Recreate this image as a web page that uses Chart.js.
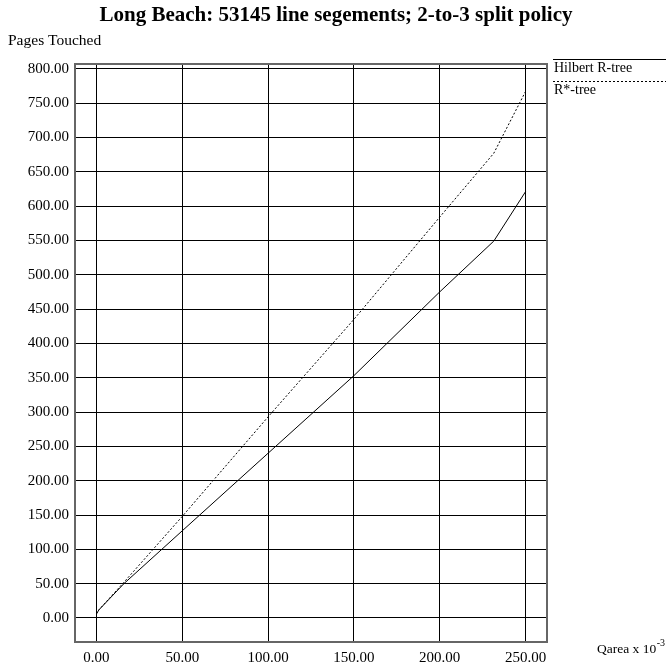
<!DOCTYPE html>
<html><head><meta charset="utf-8">
<script src="https://cdn.jsdelivr.net/npm/chart.js@4/dist/chart.umd.min.js"></script>
<style>html,body{margin:0;padding:0;background:#fff}#wrap{width:666px;height:671px;position:relative}canvas{display:block}</style>
</head><body><div id="wrap"><canvas id="c" width="666" height="671"></canvas></div>
<script>
const qarea   = [0, 1.5, 16, 50, 100, 150, 200, 231.5, 250];
const hilbert = [6, 12, 50, 127, 240, 353, 475, 549, 621];
const rstar   = [6, 12, 52, 148, 293, 435, 584, 677, 767];
const xTicks = [0, 50, 100, 150, 200, 250];
const yTicks = [0, 50, 100, 150, 200, 250, 300, 350, 400, 450, 500, 550, 600, 650, 700, 750, 800];
const seriesNames = ['Hilbert R-tree', 'R*-tree'];
const titleText = 'Long Beach: 53145 line segements; 2-to-3 split policy';
const yTitle = 'Pages Touched';

const SERIF = '"Liberation Serif", "Times New Roman", serif';

const decor = {
  id: 'decor',
  afterDraw(chart) {
    const ctx = chart.ctx, a = chart.chartArea;
    ctx.save();
    // frame
    ctx.strokeStyle = '#666';
    ctx.lineWidth = 2;
    ctx.strokeRect(a.left, a.top, a.right - a.left, a.bottom - a.top);
    // title
    ctx.fillStyle = '#000';
    ctx.textAlign = 'center';
    ctx.textBaseline = 'middle';
    ctx.font = 'bold 21px ' + SERIF;
    ctx.fillText(titleText, 336, 16);
    // y axis title
    ctx.textAlign = 'left';
    ctx.font = '15.5px ' + SERIF;
    ctx.fillText(yTitle, 8, 41);
    // x axis title
    ctx.font = '13.5px ' + SERIF;
    const base = 'Qarea x 10';
    ctx.fillText(base, 597, 649);
    const w = ctx.measureText(base).width;
    ctx.font = '10px ' + SERIF;
    ctx.fillText('-3', 597 + w + 0.5, 643);
    // legend
    const lx0 = a.right + 6, lx1 = 666;
    ctx.lineWidth = 1;
    ctx.strokeStyle = '#000';
    ctx.beginPath(); ctx.moveTo(lx0, 59.5); ctx.lineTo(lx1, 59.5); ctx.stroke();
    ctx.setLineDash([2, 2]);
    ctx.beginPath(); ctx.moveTo(lx0, 81.5); ctx.lineTo(lx1, 81.5); ctx.stroke();
    ctx.setLineDash([]);
    ctx.font = '14px ' + SERIF;
    ctx.fillText(seriesNames[0], lx0 + 1, 68);
    ctx.fillText(seriesNames[1], lx0 + 1, 90);
    ctx.restore();
  }
};

const tickFont = { family: SERIF, size: 15 };

new Chart(document.getElementById('c'), {
  type: 'line',
  data: {
    datasets: [
      { label: seriesNames[0], data: qarea.map((x, i) => ({ x, y: hilbert[i] })),
        borderColor: '#000', borderWidth: 1, pointRadius: 0, tension: 0, fill: false },
      { label: seriesNames[1], data: qarea.map((x, i) => ({ x, y: rstar[i] })),
        borderColor: '#000', borderWidth: 1, borderDash: [2, 2], pointRadius: 0, tension: 0, fill: false }
    ]
  },
  options: {
    responsive: false,
    animation: false,
    layout: { padding: { top: 64, right: 119, left: 0, bottom: 0 } },
    plugins: { legend: { display: false }, title: { display: false }, tooltip: { enabled: false } },
    scales: {
      x: {
        type: 'linear', min: -12.5, max: 262.5,
        afterBuildTicks: s => { s.ticks = xTicks.map(v => ({ value: v })); },
        afterFit: s => { s.height = 29; },
        ticks: { callback: v => Number(v).toFixed(2), font: tickFont, color: '#000', padding: 7, maxRotation: 0, autoSkip: false },
        grid: { color: '#000', lineWidth: 1, drawTicks: false },
        border: { display: false }
      },
      y: {
        type: 'linear', min: -35, max: 807,
        afterBuildTicks: s => { s.ticks = yTicks.map(v => ({ value: v })); },
        afterFit: s => { s.width = 75; },
        ticks: { callback: v => Number(v).toFixed(2), font: tickFont, color: '#000', padding: 6, autoSkip: false },
        grid: { color: '#000', lineWidth: 1, drawTicks: false },
        border: { display: false }
      }
    }
  },
  plugins: [decor]
});
</script></body></html>
